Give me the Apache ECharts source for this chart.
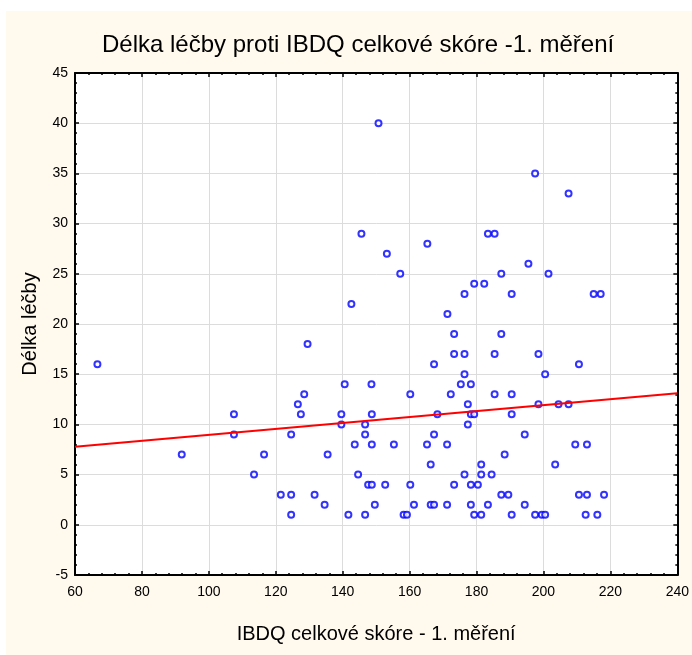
<!DOCTYPE html>
<html>
<head>
<meta charset="utf-8">
<script src="https://cdn.jsdelivr.net/npm/echarts@6/dist/echarts.min.js"></script>
<style>
html,body{margin:0;padding:0;background:#fff;}
#c{width:692px;height:655px;}
</style>
</head>
<body>
<div id="c"></div>
<script>
// IBDQ celkové skóre - 1. měření (x) and Délka léčby (y)
var scoreX = [
  150.7, 197.5, 207.5,
  145.6, 183.4, 185.4,
  165.3, 153.2, 195.5,
  157.2, 187.4, 201.5,
  179.3, 182.3,
  176.4, 190.5, 215.0, 217.1,
  142.6, 171.3,
  173.3, 187.4,
  129.5,
  173.3, 176.4, 185.4, 198.5,
  66.7, 167.3, 210.6,
  176.4, 200.5,
  140.6, 148.6, 175.3, 178.3,
  128.5, 160.2, 172.3, 185.4, 190.5,
  126.6, 177.4, 198.5, 204.5, 207.5,
  107.5, 127.5, 139.6, 148.7, 168.3, 178.3, 179.3, 190.5,
  139.6, 146.7, 177.4,
  107.5, 124.6, 146.7, 167.3, 194.4,
  143.6, 148.7, 155.3, 165.2, 171.2, 209.5, 213.0,
  91.9, 116.5, 135.5, 188.4,
  166.3, 181.4, 203.5,
  113.5, 144.6, 176.4, 181.4, 184.5,
  147.6, 148.7, 152.7, 160.2, 173.3, 178.3, 180.4,
  121.5, 124.6, 131.6, 187.4, 189.5, 210.6, 213.0, 218.1,
  134.6, 149.6, 161.3, 166.3, 167.3, 171.2, 178.3, 183.4, 194.4,
  124.6, 141.7, 146.7, 158.2, 159.2, 179.3, 181.4, 190.5, 197.5, 199.5, 200.5, 212.6, 216.1
];
var lengthY = [
  40, 35, 33,
  29, 29, 29,
  28, 27, 26,
  25, 25, 25,
  24, 24,
  23, 23, 23, 23,
  22, 21,
  19, 19,
  18,
  17, 17, 17, 17,
  16, 16, 16,
  15, 15,
  14, 14, 14, 14,
  13, 13, 13, 13, 13,
  12, 12, 12, 12, 12,
  11, 11, 11, 11, 11, 11, 11, 11,
  10, 10, 10,
  9, 9, 9, 9, 9,
  8, 8, 8, 8, 8, 8, 8,
  7, 7, 7, 7,
  6, 6, 6,
  5, 5, 5, 5, 5,
  4, 4, 4, 4, 4, 4, 4,
  3, 3, 3, 3, 3, 3, 3, 3,
  2, 2, 2, 2, 2, 2, 2, 2, 2,
  1, 1, 1, 1, 1, 1, 1, 1, 1, 1, 1, 1, 1
];
// regression line, read at the ends of the x range
var fitX = [60, 240];
var fitY = [7.77, 13.1];

var xMin = 60, xMax = 240, xStep = 20;
var yMin = -5, yMax = 45, yStep = 5;

var titleText = 'Délka léčby proti IBDQ celkové skóre -1. měření';
var xName = 'IBDQ celkové skóre - 1. měření';
var yName = 'Délka léčby';

var pts = scoreX.map(function (x, i) { return [x, lengthY[i]]; });
var fit = fitX.map(function (x, i) { return [x, fitY[i]]; });

var FONT = 'Liberation Sans, Arial, sans-serif';
function axisBase(min, max, step, pos, showLabel, isX) {
  return {
    type: 'value', min: min, max: max, interval: step, position: pos,
    axisLine: { show: true, onZero: false, lineStyle: { color: '#000', width: 2 } },
    axisTick: { show: true, inside: true, length: 4, lineStyle: { color: '#000', width: 1.5 } },
    minorTick: { show: true, splitNumber: 5, length: 2, lineStyle: { color: '#000', width: 1.5 } },
    splitLine: { show: showLabel, lineStyle: { color: '#dcdcdc', width: 1 } },
    axisLabel: { show: showLabel, color: '#000', fontSize: 14, fontFamily: FONT, margin: isX ? 10 : 7 }
  };
}
var xa0 = axisBase(xMin, xMax, xStep, 'bottom', true, true);
xa0.name = xName; xa0.nameLocation = 'middle'; xa0.nameGap = 49;
xa0.nameTextStyle = { fontSize: 20, color: '#000', fontFamily: FONT };
var xa1 = axisBase(xMin, xMax, xStep, 'top', false, true);
var ya0 = axisBase(yMin, yMax, yStep, 'left', true, false);
ya0.name = yName; ya0.nameLocation = 'middle'; ya0.nameGap = 35; ya0.nameRotate = 90;
ya0.nameTextStyle = { fontSize: 20, color: '#000', fontFamily: FONT };
var ya1 = axisBase(yMin, yMax, yStep, 'right', false, false);

var chart = echarts.init(document.getElementById('c'), null, { renderer: 'canvas' });
chart.setOption({
  backgroundColor: '#ffffff',
  animation: false,
  graphic: [{
    type: 'rect', left: 6, top: 11, shape: { width: 686, height: 644 },
    style: { fill: '#fff9ee' }, z: -10, silent: true
  }],
  title: {
    text: titleText, left: 97, top: 28,
    textStyle: { fontSize: 24, fontWeight: 'normal', color: '#000', fontFamily: FONT }
  },
  grid: { left: 75, right: 10, top: 73, bottom: 80, show: true, backgroundColor: '#ffffff', borderWidth: 0 },
  xAxis: [xa0, xa1],
  yAxis: [ya0, ya1],
  series: [
    {
      type: 'scatter', data: pts, symbol: 'emptyCircle', symbolSize: 6,
      itemStyle: { color: '#0000ff', borderColor: '#0000ff', borderWidth: 1.8 }, z: 3
    },
    {
      type: 'line', data: fit, showSymbol: false, symbol: 'none',
      lineStyle: { color: '#ff0000', width: 2 }, z: 4
    }
  ]
});
</script>
</body>
</html>
